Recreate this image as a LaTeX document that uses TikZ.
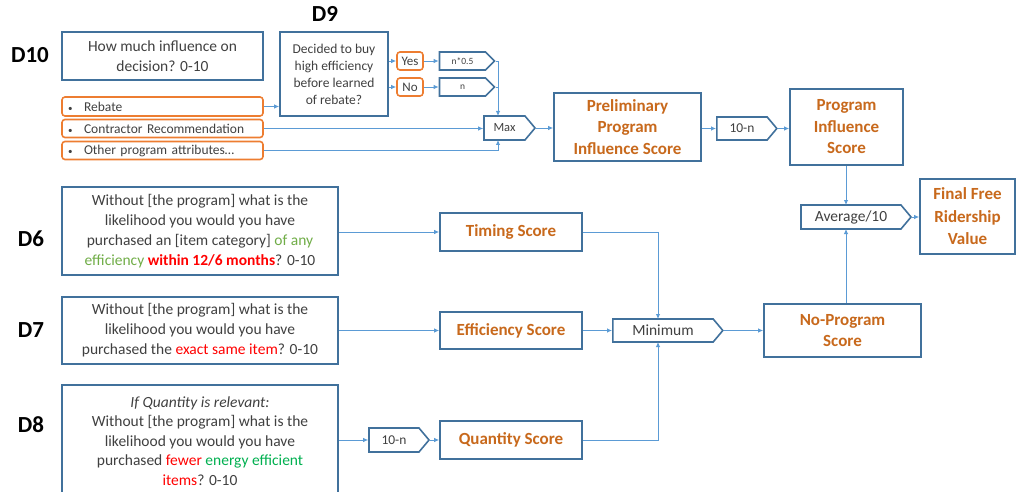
\documentclass[tikz,border=0pt]{standalone}
\usepackage{fontspec}
\setmainfont{Carlito}
\usetikzlibrary{shapes.symbols,arrows.meta}

\definecolor{boxblue}{HTML}{41719C}
\definecolor{linkblue}{HTML}{5B9BD5}
\definecolor{accorange}{HTML}{ED7D31}
\definecolor{scoreorange}{HTML}{C8691C}
\definecolor{txtgrey}{HTML}{404040}
\definecolor{hired}{HTML}{FF0000}
\definecolor{anygreen}{HTML}{70AD47}
\definecolor{effgreen}{HTML}{00B050}

\newcommand{\optbullet}{\makebox[16pt][l]{\fontsize{9}{9}\selectfont•}}

\tikzset{
  box/.style={draw=boxblue, line width=1.6, fill=white, inner sep=0,
    align=center, text=txtgrey},
  qbox/.style={box, font=\fontsize{15.5}{20}\selectfont},
  score/.style={box, text=scoreorange, font=\fontsize{17}{21.5}\selectfont\bfseries},
  opt/.style={draw=accorange, line width=1.6, rounded corners=3, inner xsep=6,
    inner ysep=0, text=txtgrey, align=left, minimum width=201, text width=189,
    font=\fontsize{13.5}{16}\selectfont},
  yn/.style={draw=accorange, line width=1.6, rounded corners=3, inner sep=0,
    text=txtgrey, minimum width=26, minimum height=18,
    font=\fontsize{13}{15}\selectfont},
  sig/.style={signal, signal to=east, signal pointer angle=100, draw=boxblue,
    line width=1.6, fill=white, inner sep=0, text=txtgrey},
  conn/.style={draw=linkblue, line width=0.9, -{Latex[length=5,width=4.5]}},
  wire/.style={draw=linkblue, line width=0.9},
  dlabel/.style={font=\fontsize{23}{25}\selectfont\bfseries, text=black}
}

\begin{document}
\begin{tikzpicture}[x=1pt, y=-1pt]
\useasboundingbox (0,0) rectangle (1023,492);

% question labels
\node[dlabel] (l10) at (30,55) {D10};
\node[dlabel] (l9) at (325,14) {D9};
\node[dlabel] (l6) at (31,239) {D6};
\node[dlabel] (l7) at (31,330) {D7};
\node[dlabel] (l8) at (31,425) {D8};

% D10 block
\node[qbox, minimum width=201, minimum height=48] (d10) at (162.5,56)
  {How much influence on\\ decision? 0-10};
\node[opt, minimum height=19] (rebate) at (162.5,106.5)
  {\optbullet Rebate};
\node[opt, minimum height=18] (contr) at (162.5,128.5)
  {\optbullet Contractor Recommendation};
\node[opt, minimum height=18] (other) at (162.5,150.5)
  {\optbullet Other program attributes…};

% D9 block
\node[box, minimum width=108, minimum height=84,
  font=\fontsize{13.5}{17}\selectfont] (d9) at (334,74)
  {Decided to buy\\ high efficiency\\ before learned\\ of rebate?};
\node[yn] (yes) at (410,61) {Yes};
\node[yn] (no) at (410,87) {No};
\node[sig, signal pointer angle=90, minimum width=55, minimum height=18,
  font=\fontsize{9.5}{11}\selectfont] (half) at (462.5,61) {n*0.5};
\node[sig, signal pointer angle=90, minimum width=55, minimum height=18,
  font=\fontsize{9.5}{11}\selectfont] (full) at (462.5,87) {n};

% program influence chain
\node[sig, minimum width=51, minimum height=24,
  font=\fontsize{12.5}{14}\selectfont] (maxb) at (504.5,128) {Max};
\node[score, minimum width=147, minimum height=68] (prelim) at (627.5,127)
  {Preliminary\\ Program\\ Influence Score};
\node[sig, minimum width=60, minimum height=23,
  font=\fontsize{13.5}{15}\selectfont] (inv1) at (742,128.5) {10-n};
\node[score, minimum width=113, minimum height=76] (proginf) at (846.5,127)
  {Program\\ Influence\\ Score};

% averaging and result
\node[sig, minimum width=110, minimum height=24,
  font=\fontsize{15.5}{17}\selectfont] (avg) at (851,217) {Average/10};
\node[score, minimum width=95, minimum height=75, font=\fontsize{17}{22.5}\selectfont\bfseries]
  (final) at (967.5,216.5) {Final Free\\ Ridership\\ Value};

% no-program questions
\node[qbox, minimum width=276, minimum height=88] (d6) at (200,231)
  {Without [the program] what is the\\ likelihood you would you have\\
   purchased an [item category] {\color{anygreen}of any}\\
   {\color{anygreen}efficiency} {\color{hired}\bfseries within 12/6 months}? 0-10};
\node[qbox, minimum width=276, minimum height=67] (d7) at (200,330.5)
  {Without [the program] what is the\\ likelihood you would you have\\
   purchased the {\color{hired}exact same item}? 0-10};
\node[qbox, minimum width=276, minimum height=112, font=\fontsize{15.5}{19.5}\selectfont]
  (d8) at (200,441)
  {\textit{If Quantity is relevant:}\\ Without [the program] what is the\\
   likelihood you would you have\\
   purchased {\color{hired}fewer} {\color{effgreen}energy efficient}\\
   {\color{hired}items}? 0-10};

\node[score, minimum width=142, minimum height=38] (timing) at (511,232) {Timing Score};
\node[score, minimum width=142, minimum height=37] (eff) at (511,330.5) {Efficiency Score};
\node[sig, minimum width=60, minimum height=24,
  font=\fontsize{13.5}{15}\selectfont] (inv2) at (394,440) {10-n};
\node[score, minimum width=142, minimum height=38] (qty) at (511,440) {Quantity Score};

\node[sig, minimum width=110, minimum height=23,
  font=\fontsize{15.5}{17}\selectfont] (minb) at (663,330.5) {Minimum};
\node[score, minimum width=157, minimum height=53] (noprog) at (842.5,330.5)
  {No-Program\\ Score};

% junction points
\coordinate (maxin) at (498,116);
\coordinate (maxlow) at (498,140);
\coordinate (minin) at (658,319);
\coordinate (minlow) at (658,342);
\coordinate (avgin) at (846,205);
\coordinate (avglow) at (846,229);

% D10 / D9 connectors
\draw[conn] (rebate.east) -- (rebate.east -| d9.west);
\draw[conn] (d9.east |- yes) -- (yes.west);
\draw[conn] (d9.east |- no) -- (no.west);
\draw[conn] (yes.east) -- (half.west);
\draw[conn] (no.east) -- (full.west);
\draw[conn] (half.east) -| (maxin);
\draw[wire] (full.east) -- (full.east -| maxin);
\draw[conn] (contr.east) -- (contr.east -| maxb.west);
\draw[conn] (other.east) -| (maxlow);
\draw[conn] (maxb.east) -- (prelim.west |- maxb.east);
\draw[conn] (prelim.east |- inv1) -- (inv1.west);
\draw[conn] (inv1.east) -- (proginf.west |- inv1.east);
\draw[conn] (proginf.south -| avgin) -- (avgin);
\draw[conn] (noprog.north -| avglow) -- (avglow);
\draw[conn] (avg.east) -- (final.west |- avg.east);

% no-program connectors
\draw[conn] (d6.east |- timing) -- (timing.west);
\draw[conn] (d7.east |- eff) -- (eff.west);
\draw[conn] (d8.east |- inv2) -- (inv2.west);
\draw[conn] (inv2.east) -- (qty.west);
\draw[conn] (timing.east) -| (minin);
\draw[conn] (eff.east) -- (minb.west);
\draw[conn] (qty.east) -| (minlow);
\draw[conn] (minb.east) -- (noprog.west);
\end{tikzpicture}
\end{document}
